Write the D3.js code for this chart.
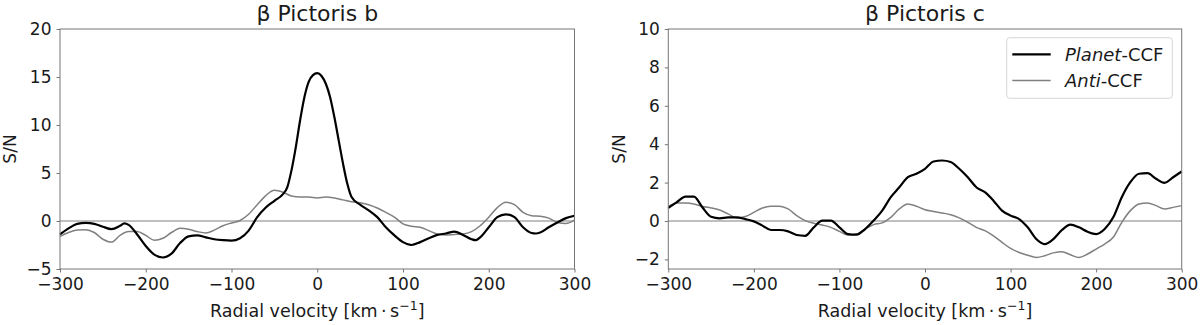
<!DOCTYPE html>
<html>
<head>
<meta charset="utf-8">
<title>beta Pictoris CCF</title>
<style>
  body { margin: 0; background: #fff; }
  svg { display: block; font-family: "DejaVu Sans", sans-serif; }
  .tick text { fill: #1a1a1a; }
</style>
</head>
<body>
<svg id="chart" width="1200" height="325"></svg>
<script src="https://d3js.org/d3.v7.min.js"></script>
<script>
// ---- data ----
var velB = [-300,-290,-280,-270,-260,-250,-240,-230,-225,-220,-210,-200,-190,-180,-170,-160,-150,-140,-130,-120,-110,-100,-90,-80,-70,-60,-50,-40,-35,-30,-25,-20,-15,-10,-5,0,5,10,15,20,25,30,35,40,50,60,70,80,90,100,110,120,130,140,150,160,170,180,185,190,200,210,220,230,240,250,255,260,270,280,290,300];
var planetB = [-1.4,-0.77,-0.3,-0.2,-0.3,-0.6,-0.85,-0.5,-0.25,-0.4,-1.4,-2.6,-3.5,-3.8,-3.4,-2.3,-1.6,-1.5,-1.7,-1.9,-2.0,-2.05,-1.8,-1.0,0.4,1.4,2.1,2.8,3.5,5.3,7.7,10.5,12.9,14.5,15.2,15.4,15.1,14.3,12.9,10.8,8.4,6.0,3.9,2.5,1.7,1.1,0.4,-0.65,-1.5,-2.2,-2.5,-2.2,-1.8,-1.45,-1.3,-1.1,-1.45,-1.9,-2.0,-1.7,-0.65,0.4,0.7,0.4,-0.65,-1.25,-1.3,-1.2,-0.65,-0.15,0.3,0.55];
var velBAnti = [-300,-290,-280,-270,-260,-250,-240,-230,-220,-210,-200,-190,-180,-170,-160,-150,-140,-130,-120,-110,-100,-90,-80,-70,-60,-50,-40,-30,-20,-10,0,10,20,30,40,50,60,70,80,90,100,110,120,130,140,150,160,170,180,190,200,210,220,230,240,250,260,270,280,290,300];
var antiB = [-1.6,-1.2,-0.95,-0.9,-1.2,-1.9,-2.2,-1.5,-1.1,-1.1,-1.5,-2.0,-1.8,-1.2,-0.75,-0.85,-1.1,-1.25,-0.95,-0.5,-0.2,0.05,0.7,1.7,2.65,3.2,3.0,2.6,2.5,2.5,2.4,2.5,2.4,2.2,2.0,1.9,1.7,1.35,0.9,0.4,-0.3,-0.55,-0.65,-1.0,-1.35,-1.45,-1.4,-1.35,-1.1,-0.5,0.4,1.4,1.95,1.7,0.9,0.55,0.5,0.3,-0.15,-0.25,0.1];

var velC = [-300,-290,-280,-270,-260,-250,-240,-230,-220,-210,-200,-190,-180,-170,-160,-150,-140,-130,-120,-110,-100,-90,-80,-70,-60,-50,-40,-30,-20,-10,0,10,20,30,40,50,60,70,80,90,100,110,120,130,140,150,160,170,180,190,200,210,220,230,240,250,260,270,280,290,300];
var planetC = [0.68,0.98,1.27,1.27,0.7,0.22,0.14,0.19,0.19,0.1,-0.02,-0.24,-0.47,-0.47,-0.54,-0.73,-0.77,-0.33,0.02,0.02,-0.33,-0.68,-0.71,-0.42,0.02,0.54,1.24,1.76,2.28,2.46,2.72,3.1,3.15,3.07,2.72,2.28,1.76,1.5,1.06,0.54,0.28,0.1,-0.33,-0.94,-1.2,-0.94,-0.47,-0.19,-0.33,-0.56,-0.68,-0.42,0.19,1.24,2.02,2.46,2.49,2.2,1.99,2.28,2.58];
var antiC = [0.75,0.94,0.94,0.89,0.75,0.68,0.57,0.37,0.16,0.23,0.45,0.68,0.77,0.77,0.63,0.28,0.02,-0.12,-0.21,-0.33,-0.54,-0.73,-0.68,-0.42,-0.19,-0.1,0.19,0.63,0.89,0.77,0.59,0.5,0.42,0.33,0.16,-0.07,-0.33,-0.5,-0.77,-1.11,-1.43,-1.64,-1.78,-1.9,-1.81,-1.66,-1.6,-1.76,-1.9,-1.72,-1.46,-1.2,-0.85,-0.07,0.54,0.89,0.94,0.8,0.63,0.71,0.8];

var xTicks = [-300, -200, -100, 0, 100, 200, 300];
var yTicksB = [-5, 0, 5, 10, 15, 20];
var yTicksC = [-2, 0, 2, 4, 6, 8, 10];

var svg = d3.select("#chart");

function zip(xs, ys) {
  return xs.map(function(x, i) { return [x, ys[i]]; });
}

function minusFmt(d) { return d < 0 ? "\u2212" + (-d) : d; }

function drawPanel(opt) {
  var x = d3.scaleLinear().domain([-300, 300]).range([opt.left, opt.right]);
  var y = d3.scaleLinear().domain(opt.ydom).range([269, 29]);
  var g = svg.append("g");

  // zero line
  g.append("line")
    .attr("x1", x(-300)).attr("x2", x(300))
    .attr("y1", y(0)).attr("y2", y(0))
    .attr("stroke", "#808080").attr("stroke-width", 1.1);

  var line = d3.line()
    .x(function(d) { return x(d[0]); })
    .y(function(d) { return y(d[1]); })
    .curve(d3.curveMonotoneX);

  g.append("path")
    .datum(zip(opt.antiX, opt.anti))
    .attr("fill", "none").attr("stroke", "#808080").attr("stroke-width", 1.5)
    .attr("d", line);

  g.append("path")
    .datum(zip(opt.planetX, opt.planet))
    .attr("fill", "none").attr("stroke", "#000").attr("stroke-width", 2.2)
    .attr("d", line);

  // frame
  g.append("rect")
    .attr("x", x(-300)).attr("y", y(opt.ydom[1]))
    .attr("width", x(300) - x(-300)).attr("height", y(opt.ydom[0]) - y(opt.ydom[1]))
    .attr("fill", "none").attr("stroke", "#767676").attr("stroke-width", 1);

  var xa = g.append("g")
    .attr("transform", "translate(0," + y(opt.ydom[0]) + ")")
    .call(d3.axisBottom(x).tickValues(xTicks).tickSize(3.5).tickPadding(5.5).tickFormat(minusFmt));
  var ya = g.append("g")
    .attr("transform", "translate(" + x(-300) + ",0)")
    .call(d3.axisLeft(y).tickValues(opt.yticks).tickSize(3.5).tickPadding(5).tickFormat(minusFmt));
  [xa, ya].forEach(function(a) {
    a.select(".domain").remove();
    a.selectAll(".tick line").attr("stroke", "#767676");
    a.selectAll("text").attr("font-size", "17px").attr("font-family", "DejaVu Sans");
  });

  g.append("text")
    .attr("x", (x(-300) + x(300)) / 2).attr("y", 21)
    .attr("text-anchor", "middle").attr("font-size", "22px").attr("fill", "#1a1a1a")
    .text(opt.title);

  var xl = g.append("text")
    .attr("x", (x(-300) + x(300)) / 2).attr("y", 317)
    .attr("text-anchor", "middle").attr("font-size", "17.5px").attr("fill", "#1a1a1a");
  xl.append("tspan").text("Radial velocity [km\u2009\u00b7\u2009s");
  xl.append("tspan").attr("dy", -7).attr("font-size", "12.5px").text("\u22121");
  xl.append("tspan").attr("dy", 7).text("]");

  g.append("text")
    .attr("transform", "translate(" + opt.ylabX + "," + ((y(opt.ydom[0]) + y(opt.ydom[1])) / 2) + ") rotate(-90)")
    .attr("text-anchor", "middle").attr("font-size", "17px").attr("fill", "#1a1a1a")
    .text("S/N");

  return { x: x, y: y };
}

drawPanel({
  left: 60, right: 574.5, ydom: [-5, 20], yticks: yTicksB, ylabX: 16,
  title: "\u03b2 Pictoris b",
  planetX: velB, planet: planetB, antiX: velBAnti, anti: antiB
});

drawPanel({
  left: 668.3, right: 1181.7, ydom: [-2.5, 10], yticks: yTicksC, ylabX: 625,
  title: "\u03b2 Pictoris c",
  planetX: velC, planet: planetC, antiX: velC, anti: antiC
});

// legend (right panel)
var legend = svg.append("g");
legend.append("rect")
  .attr("x", 1006.7).attr("y", 37.7).attr("width", 165.6).attr("height", 60.6).attr("rx", 3)
  .attr("fill", "#fff").attr("fill-opacity", 0.8)
  .attr("stroke", "#d6d6d6").attr("stroke-width", 1);

var items = [
  { name: "Planet", color: "#000", w: 2.2, y: 54.3 },
  { name: "Anti", color: "#808080", w: 1.5, y: 80.5 }
];
var li = legend.selectAll("g.item").data(items).enter().append("g").attr("class", "item");
li.append("line")
  .attr("x1", 1012.3).attr("x2", 1050.7)
  .attr("y1", function(d) { return d.y; }).attr("y2", function(d) { return d.y; })
  .attr("stroke", function(d) { return d.color; })
  .attr("stroke-width", function(d) { return d.w; });
var lt = li.append("text")
  .attr("x", 1065).attr("y", function(d) { return d.y + 6.3; })
  .attr("font-size", "18px").attr("fill", "#1a1a1a");
lt.append("tspan").attr("font-style", "italic").text(function(d) { return d.name; });
lt.append("tspan").text("-CCF");
</script>
</body>
</html>
